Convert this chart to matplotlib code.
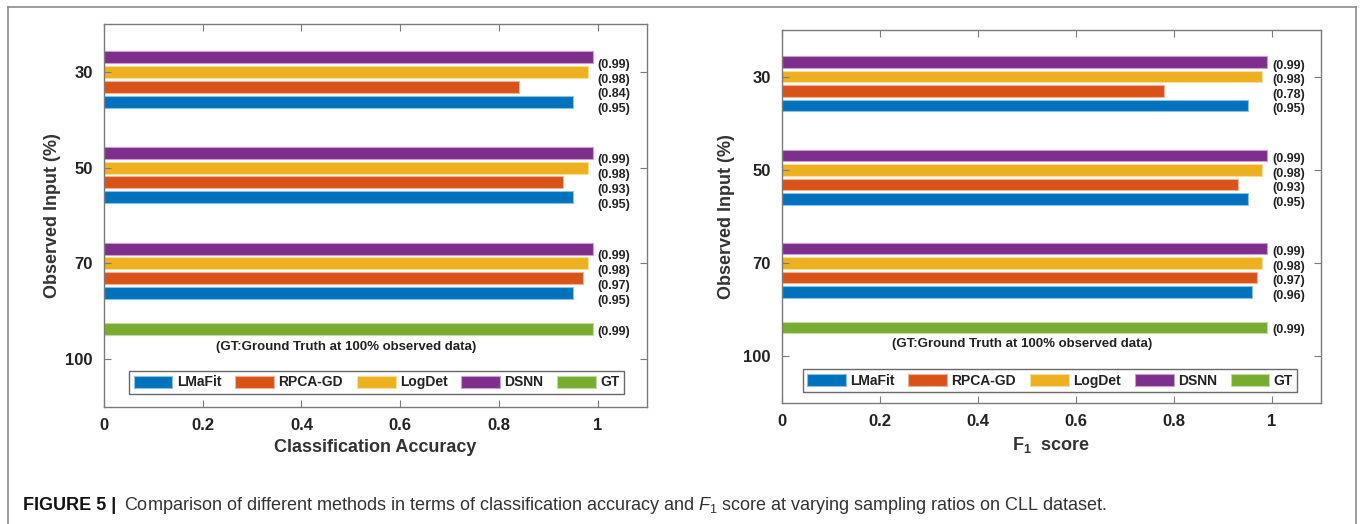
import numpy as np
import matplotlib
matplotlib.use('Agg')
from matplotlib import pyplot as plt
from matplotlib.lines import Line2D
from matplotlib.colors import to_rgb

plt.rcParams.update({'font.family': ['Liberation Sans', 'DejaVu Sans'],
                     'mathtext.fontset': 'custom',
                     'mathtext.rm': 'Liberation Sans',
                     'mathtext.it': 'Liberation Sans:italic',
                     'mathtext.bf': 'Liberation Sans:bold'})

# observed input levels (%), one group per row
groups = ['30', '50', '70', '100']
methods = ['LMaFit', 'RPCA-GD', 'LogDet', 'DSNN', 'GT']

# classification accuracy
acc_lmafit = [0.95, 0.95, 0.95]
acc_rpca = [0.84, 0.93, 0.97]
acc_logdet = [0.98, 0.98, 0.98]
acc_dsnn = [0.99, 0.99, 0.99]
acc_gt = 0.99

# F1 score
f1_lmafit = [0.95, 0.95, 0.96]
f1_rpca = [0.78, 0.93, 0.97]
f1_logdet = [0.98, 0.98, 0.98]
f1_dsnn = [0.99, 0.99, 0.99]
f1_gt = 0.99

colors = {'LMaFit': '#0072BD', 'RPCA-GD': '#D95319', 'LogDet': '#EDB120',
          'DSNN': '#7E2F8E', 'GT': '#77AC30'}
offsets = {'LMaFit': 0.31, 'RPCA-GD': 0.155, 'LogDet': 0.0, 'DSNN': -0.155, 'GT': -0.31}
bar_h = 0.125
axis_gray = '#7a7a7a'


def lighten(c, f=0.55):
    r, g, b = to_rgb(c)
    return (r + (1 - r) * f, g + (1 - g) * f, b + (1 - b) * f)


def draw_panel(ax, series, gt, xlabel, lab_dy, leg_xy, ylab_pad):
    ypos = np.arange(1, len(groups))
    for m in ['LMaFit', 'RPCA-GD', 'LogDet', 'DSNN']:
        ax.barh(ypos + offsets[m], series[m], height=bar_h, color=colors[m],
                edgecolor=lighten(colors[m]), linewidth=0.8, label=m)
    ax.barh([len(groups) + offsets['GT']], [gt], height=bar_h, color=colors['GT'],
            edgecolor=lighten(colors['GT']), linewidth=0.8, label='GT')

    # value labels to the right of each group
    for i, y in enumerate(ypos):
        for m in ['DSNN', 'LogDet', 'RPCA-GD', 'LMaFit']:
            ax.text(1.0, y + offsets[m] + lab_dy, '({:.2f})'.format(series[m][i]),
                    fontsize=9, fontweight='bold', ha='left', va='center', color='#222222')
    ax.text(1.0, len(groups) + offsets['GT'] + 0.03, '({:.2f})'.format(gt),
            fontsize=9, fontweight='bold', ha='left', va='center', color='#222222')
    ax.text(0.49, 3.87, '(GT:Ground Truth at 100% observed data)', fontsize=9.5,
            fontweight='bold', ha='center', va='center', color='#222222')

    ax.set_xlim(0, 1.1)
    ax.set_ylim(len(groups) + 0.5, 0.5)
    ax.set_xticks([0, 0.2, 0.4, 0.6, 0.8, 1])
    ax.set_xticklabels(['0', '0.2', '0.4', '0.6', '0.8', '1'])
    ax.set_yticks(np.arange(1, len(groups) + 1))
    ax.set_yticklabels(groups)
    ax.tick_params(direction='in', length=5, width=0.8, color=axis_gray, labelsize=12,
                   top=True, right=True, labelcolor='#222222', pad=8)
    for lbl in ax.get_xticklabels() + ax.get_yticklabels():
        lbl.set_fontweight('bold')
    for s in ax.spines.values():
        s.set_color(axis_gray)
        s.set_linewidth(1.0)
    ax.set_xlabel(xlabel, fontsize=13, fontweight='bold', color='#333333', labelpad=4)
    ax.set_ylabel('Observed Input (%)', fontsize=13, fontweight='bold', color='#333333',
                  labelpad=ylab_pad)

    leg = ax.legend(loc='center', bbox_to_anchor=leg_xy, ncol=5, fontsize=10, frameon=True,
                    fancybox=False, handlelength=2.8, handleheight=1.0, handletextpad=0.3,
                    columnspacing=1.0, borderpad=0.3, borderaxespad=0)
    leg.get_frame().set_edgecolor('#444444')
    leg.get_frame().set_linewidth(1.0)
    for t in leg.get_texts():
        t.set_fontweight('bold')
        t.set_color('#222222')


fig = plt.figure(figsize=(13.63, 5.24), dpi=100)
W, H = 1363.0, 524.0

ax1 = fig.add_axes([104 / W, (H - 407) / H, 543 / W, 383 / H])
draw_panel(ax1, {'LMaFit': acc_lmafit, 'RPCA-GD': acc_rpca, 'LogDet': acc_logdet, 'DSNN': acc_dsnn},
           acc_gt, 'Classification Accuracy', 0.08, (0.502, 0.064), 3)

ax2 = fig.add_axes([782 / W, (H - 403) / H, 539 / W, 373 / H])
draw_panel(ax2, {'LMaFit': f1_lmafit, 'RPCA-GD': f1_rpca, 'LogDet': f1_logdet, 'DSNN': f1_dsnn},
           f1_gt, r'$\mathbf{F}_{\mathbf{1}}$  score', 0.04, (0.497, 0.060), 6)

# outer frame around the figure (open at the bottom)
frame_kw = dict(color='#8c8c8c', linewidth=1.2, transform=fig.transFigure)
fig.add_artist(Line2D([7.5 / W, 7.5 / W], [0, (H - 7) / H], **frame_kw))
fig.add_artist(Line2D([1356 / W, 1356 / W], [0, (H - 7) / H], **frame_kw))
fig.add_artist(Line2D([7.5 / W, 1356 / W], [(H - 7) / H, (H - 7) / H], **frame_kw))

# caption
fig.text(23 / W, (H - 505) / H, 'FIGURE 5 |', fontsize=13, fontweight='bold', color='#111111',
         va='center', ha='left')
fig.text(124 / W, (H - 505) / H,
         'Comparison of different methods in terms of classification accuracy and $F_1$ score at '
         'varying sampling ratios on CLL dataset.',
         fontsize=13, color='#333333', va='center', ha='left')

plt.savefig('out.png', dpi=100)
plt.close()
